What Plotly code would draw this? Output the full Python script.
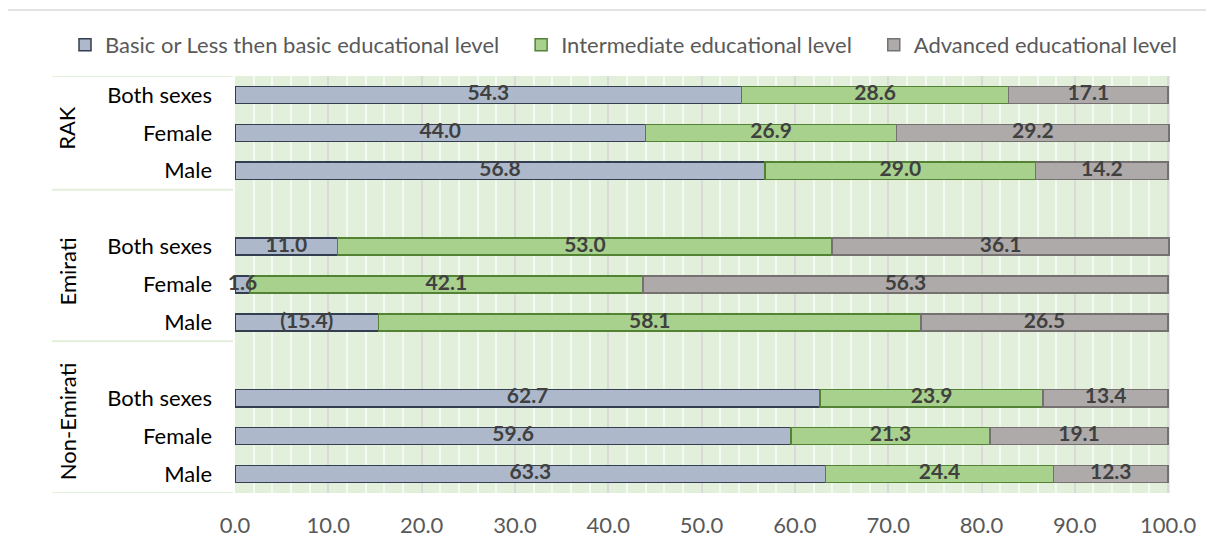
import plotly.graph_objects as go

groups = ["RAK", "Emirati", "Non-Emirati"]
sexes = ["Both sexes", "Female", "Male"]
series_names = ["Basic or Less then basic educational level",
                "Intermediate educational level",
                "Advanced educational level"]

basic = [54.3, 44.0, 56.8, 11.0, 1.6, 15.4, 62.7, 59.6, 63.3]
basic_labels = ["54.3", "44.0", "56.8", "11.0", "1.6", "(15.4)", "62.7", "59.6", "63.3"]
intermediate = [28.6, 26.9, 29.0, 53.0, 42.1, 58.1, 23.9, 21.3, 24.4]
advanced = [17.1, 29.2, 14.2, 36.1, 56.3, 26.5, 13.4, 19.1, 12.3]

x_ticks = [0, 10, 20, 30, 40, 50, 60, 70, 80, 90, 100]

fills = ["#ADB9CA", "#A9D18E", "#AEAAAA"]
edges = ["#333F50", "#548235", "#767171"]

# slot positions: each group after the first gets a blank slot before it
ypos = []
ylabels = []
for g in range(len(groups)):
    for s in range(len(sexes)):
        ypos.append(g * 4 + s)
        ylabels.append(sexes[s])

FONT = "Lato"
PAD = "\u00a0\u00a0\u00a0"
fig = go.Figure()
all_vals = [basic, intermediate, advanced]
cum = [0.0] * len(basic)
for i, vals in enumerate(all_vals):
    fig.add_trace(go.Bar(
        x=vals, y=ypos, orientation="h",
        name=series_names[i] + (PAD if i < 2 else ""),
        marker=dict(color=fills[i], line=dict(color=edges[i], width=1.5)),
        width=0.45,
    ))
    text = basic_labels if i == 0 else [f"{v:.1f}" for v in vals]
    mids = [c + v / 2 for c, v in zip(cum, vals)]
    fig.add_trace(go.Scatter(
        x=mids, y=ypos, mode="text", text=text, showlegend=False, hoverinfo="skip",
        textposition="middle center", cliponaxis=False,
        textfont=dict(family=FONT, size=21, color="#404040", weight="bold"),
    ))
    cum = [c + v for c, v in zip(cum, vals)]

OFF = 8  # page body margin
W, H = 1214 - OFF, 547 - OFF
L, R, T, B = 235 - OFF, 1214 - 1170, 76 - OFF, 547 - 493
pw = W - L - R
ph = H - T - B

def px_x(p):
    return (p - OFF - L) / pw

def px_y(p):
    return (H - B - (p - OFF)) / ph

shapes = []
# chart border
shapes.append(dict(type="rect", xref="paper", yref="paper",
                   x0=px_x(7), x1=px_x(1220), y0=px_y(560), y1=px_y(10),
                   line=dict(color="#D9D9D9", width=1.5), fillcolor="rgba(0,0,0,0)", layer="below"))
# group separators
for yv in [-0.5, 2.5, 6.5, 10.5]:
    shapes.append(dict(type="line", xref="paper", yref="y",
                       x0=px_x(52), x1=px_x(233), y0=yv, y1=yv,
                       line=dict(color="#E2EFDA", width=2)))

annotations = []
label_shift = [5, 13, 14]
for g, name in enumerate(groups):
    lo = g * 4 - 0.5 if g > 0 else -0.5
    hi = g * 4 + 2.5
    annotations.append(dict(x=px_x(67), y=(lo + hi) / 2, xref="paper", yref="y",
                            text=name, textangle=-90, showarrow=False, yshift=label_shift[g],
                            font=dict(family=FONT, size=22, color="#000000"),
                            xanchor="center", yanchor="middle"))

fig.update_layout(
    width=W, height=H,
    barmode="stack",
    margin=dict(l=L, r=R, t=T, b=B, autoexpand=False),
    paper_bgcolor="white", plot_bgcolor="#E2EFDA",
    font=dict(family=FONT, size=22, color="#595959"),
    legend=dict(orientation="h", x=px_x(65), xanchor="left", y=px_y(45), yanchor="middle",
                font=dict(family=FONT, size=22, color="#595959"), traceorder="normal",
                itemwidth=30, bgcolor="rgba(0,0,0,0)"),
    shapes=shapes, annotations=annotations,
    xaxis=dict(range=[0, 100.2], tickvals=x_ticks, ticktext=[f"{v:.1f}" for v in x_ticks],
               showgrid=True, gridcolor="#D9D9D9", gridwidth=2, zeroline=False,
               minor=dict(dtick=2, showgrid=True, gridcolor="#F6F8F4", gridwidth=2),
               tickfont=dict(family=FONT, size=22, color="#595959"), ticks="", showline=False,
               ticklabelstandoff=17),
    yaxis=dict(range=[10.5, -0.5], tickvals=ypos, ticktext=ylabels, showgrid=False, zeroline=False,
               tickfont=dict(family=FONT, size=22, color="#000000"), ticklabelstandoff=22,
               showline=False),
)

fig.write_html("out.html")
